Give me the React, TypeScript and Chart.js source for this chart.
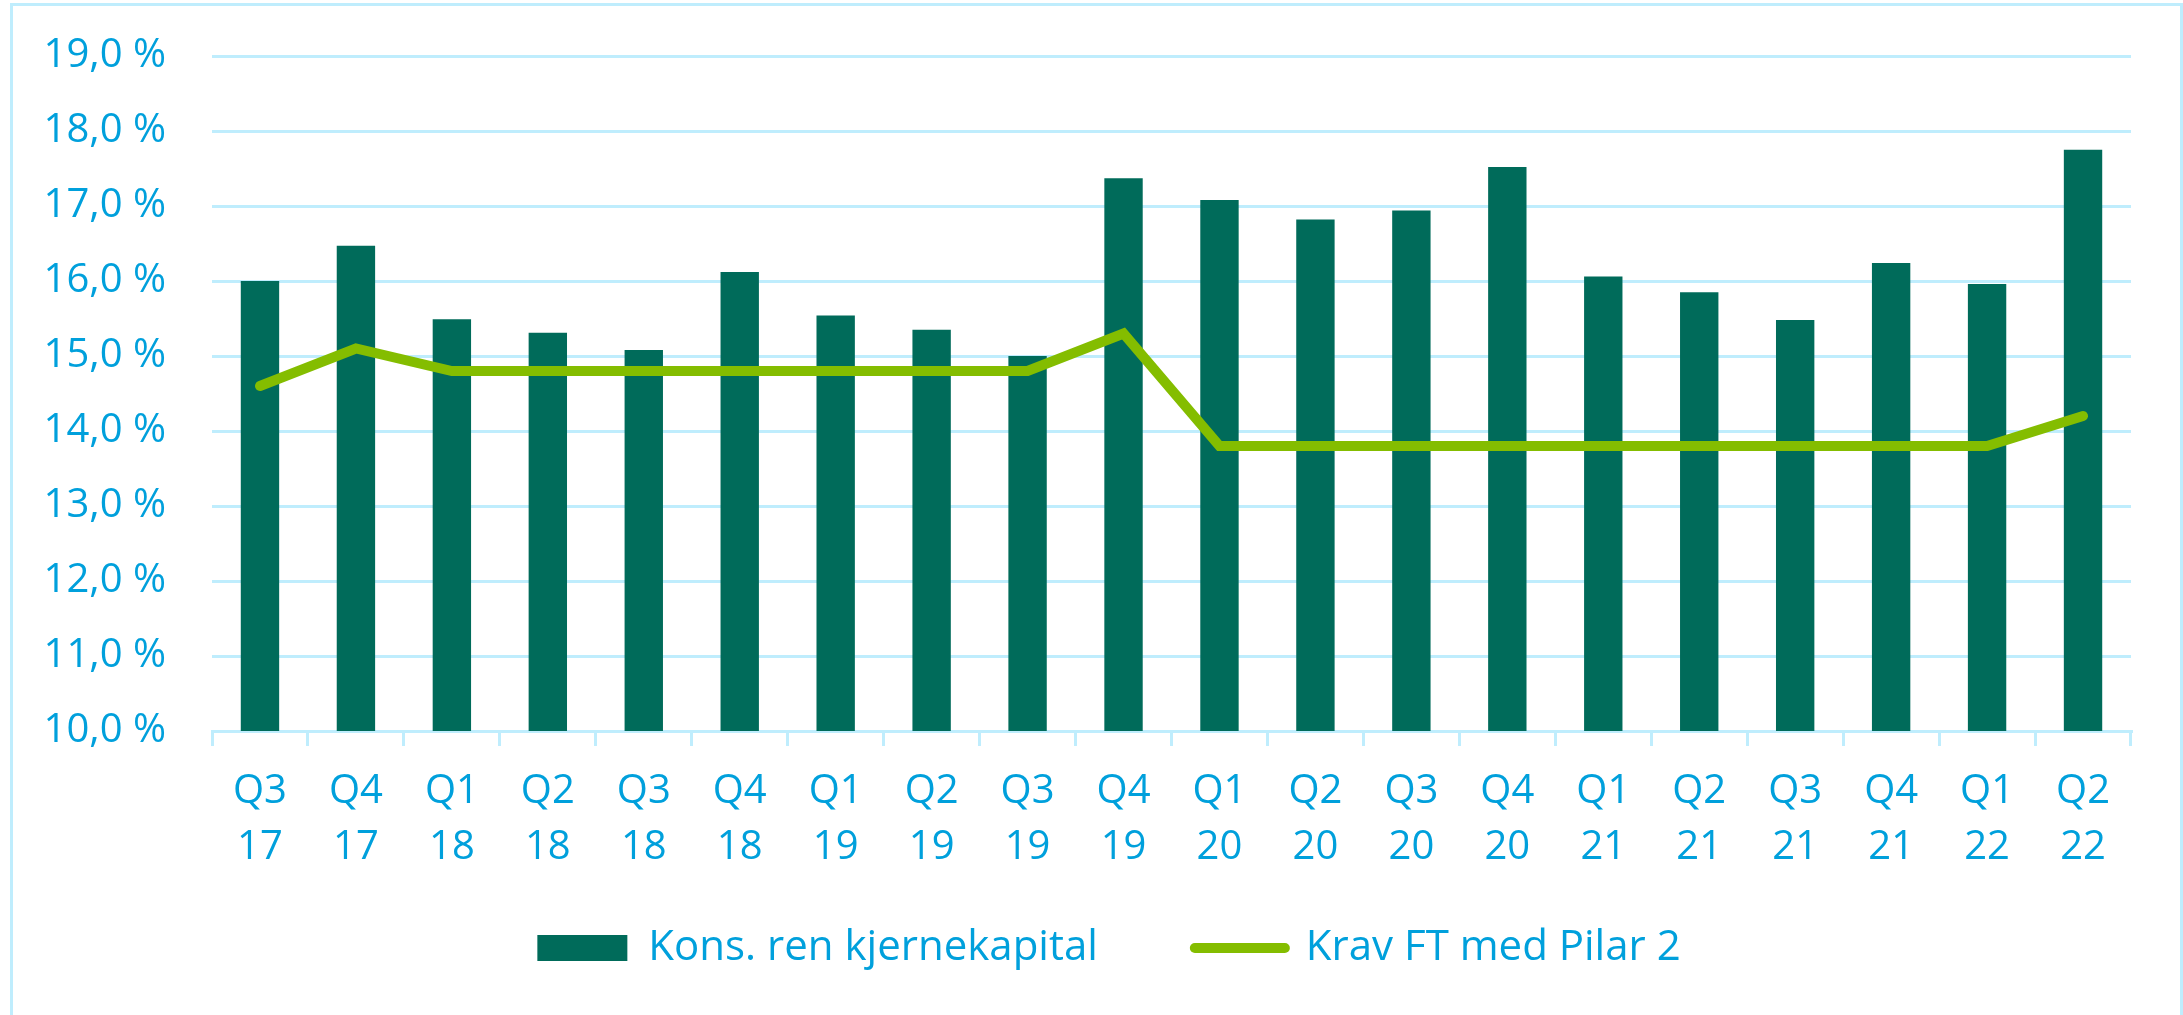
import React, { useEffect, useRef } from 'react';
import { Chart, registerables } from 'chart.js';

Chart.register(...registerables);

const categories: string[][] = [
  ['Q3', '17'], ['Q4', '17'], ['Q1', '18'], ['Q2', '18'], ['Q3', '18'], ['Q4', '18'],
  ['Q1', '19'], ['Q2', '19'], ['Q3', '19'], ['Q4', '19'], ['Q1', '20'], ['Q2', '20'],
  ['Q3', '20'], ['Q4', '20'], ['Q1', '21'], ['Q2', '21'], ['Q3', '21'], ['Q4', '21'],
  ['Q1', '22'], ['Q2', '22'],
];
const konsRenKjernekapital = [
  16.0, 16.47, 15.49, 15.31, 15.08, 16.12, 15.54, 15.35, 15.0, 17.37,
  17.08, 16.82, 16.94, 17.52, 16.06, 15.85, 15.48, 16.24, 15.96, 17.75,
];
const kravFTMedPilar2 = [
  14.6, 15.1, 14.8, 14.8, 14.8, 14.8, 14.8, 14.8, 14.8, 15.3,
  13.8, 13.8, 13.8, 13.8, 13.8, 13.8, 13.8, 13.8, 13.8, 14.2,
];
const seriesNames = ['Kons. ren kjernekapital', 'Krav FT med Pilar 2'];
const yMin = 10;
const yMax = 19;
const yStep = 1;

const TEXT = '#00A0DC';
const GRID = '#BFEDFD';
const BAR = '#006B5A';
const LINE = '#84BD00';
const FONT = "'Open Sans', 'Noto Sans', sans-serif";

// let tick labels overflow their axis boxes (as in the reference layout)
const unclipLabels = {
  id: 'unclipLabels',
  beforeDraw(chart: any) {
    for (const s of Object.values(chart.scales) as any[]) {
      s._computeLabelArea = () => undefined;
    }
  },
};

export default function App() {
  const ref = useRef<HTMLCanvasElement | null>(null);

  useEffect(() => {
    if (!ref.current) return;
    const chart = new Chart(ref.current, {
      type: 'bar',
      plugins: [unclipLabels],
      data: {
        labels: categories,
        datasets: [
          {
            type: 'bar',
            label: seriesNames[0],
            data: konsRenKjernekapital,
            backgroundColor: BAR,
            borderWidth: 0,
            categoryPercentage: 1,
            barPercentage: 0.4,
            order: 2,
          } as any,
          {
            type: 'line',
            label: seriesNames[1],
            data: kravFTMedPilar2,
            borderColor: LINE,
            backgroundColor: LINE,
            borderWidth: 10,
            borderCapStyle: 'round',
            borderJoinStyle: 'miter',
            pointRadius: 0,
            pointHoverRadius: 0,
            tension: 0,
            fill: false,
            order: 1,
          } as any,
        ],
      },
      options: {
        animation: false,
        responsive: true,
        maintainAspectRatio: false,
        layout: { padding: { left: 87, right: 52, top: 56, bottom: 36 } },
        plugins: {
          tooltip: { enabled: false },
          legend: {
            position: 'bottom',
            labels: {
              usePointStyle: true,
              pointStyleWidth: 90,
              boxHeight: 26,
              padding: 97,
              color: TEXT,
              font: { family: FONT, size: 42 },
              sort: (a: any, b: any) => a.datasetIndex - b.datasetIndex,
              generateLabels: (c: any) => {
                const items = (Chart.defaults.plugins.legend.labels as any).generateLabels(c);
                return items.map((it: any) => ({
                  ...it,
                  pointStyle: it.datasetIndex === 0 ? 'rect' : 'line',
                  lineWidth: it.datasetIndex === 0 ? 0 : 10,
                  lineCap: 'round',
                  fillStyle: it.datasetIndex === 0 ? BAR : LINE,
                  strokeStyle: it.datasetIndex === 0 ? BAR : LINE,
                }));
              },
            },
          },
        },
        scales: {
          x: {
            grid: {
              offset: true,
              drawOnChartArea: false,
              drawTicks: true,
              tickLength: 15,
              color: GRID,
              lineWidth: 3,
            },
            border: { display: true, color: GRID, width: 3 },
            ticks: {
              color: TEXT,
              font: { family: FONT, size: 40, lineHeight: 1.4 },
              padding: 18,
              autoSkip: false,
              maxRotation: 0,
              minRotation: 0,
            },
            afterFit: (scale: any) => {
              scale.height = 99;
            },
          },
          y: {
            min: yMin,
            max: yMax,
            grid: {
              color: GRID,
              lineWidth: 3,
              drawTicks: true,
              tickLength: 46,
              tickColor: 'rgba(0,0,0,0)',
            },
            border: { display: false },
            ticks: {
              stepSize: yStep,
              color: TEXT,
              font: { family: FONT, size: 40 },
              padding: 0,
              callback: (v: any) => Number(v).toFixed(1).replace('.', ',') + ' %',
            },
            afterFit: (scale: any) => {
              scale.width = 125;
            },
          },
        },
      },
    });
    return () => chart.destroy();
  }, []);

  return (
    <div style={{ position: 'fixed', left: 0, top: 0, width: 2183, height: 1015, background: '#fff', overflow: 'hidden' }}>
      <div
        style={{
          position: 'absolute',
          left: 10,
          top: 3,
          width: 2173,
          height: 1040,
          boxSizing: 'border-box',
          border: `3px solid ${GRID}`,
          pointerEvents: 'none',
        }}
      />
      <div style={{ position: 'absolute', left: 0, top: 0, width: 2183, height: 1015 }}>
        <canvas ref={ref} />
      </div>
    </div>
  );
}
